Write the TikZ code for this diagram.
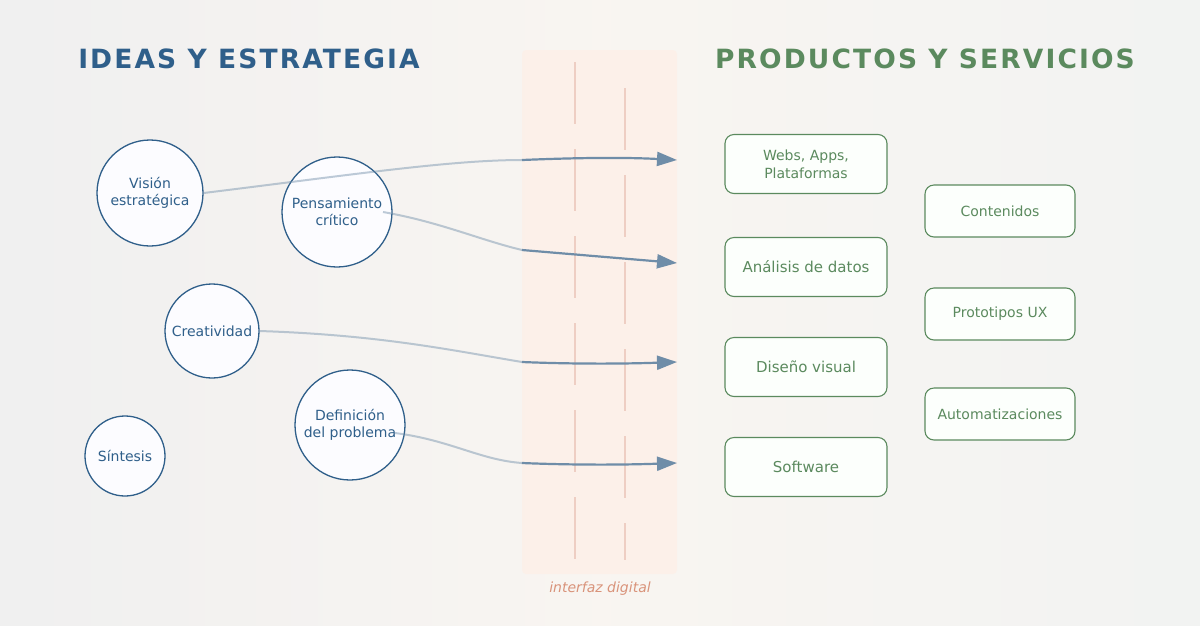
\documentclass[tikz,border=0pt]{standalone}
\usepackage{fontspec}
\setmainfont{DejaVu Sans}
\usetikzlibrary{arrows.meta}
\definecolor{blu}{HTML}{2F5F8A}
\definecolor{grn}{HTML}{5B8A5E}
\definecolor{sal}{HTML}{D9937A}
\definecolor{arr}{HTML}{6F8DA8}
\begin{document}
\begin{tikzpicture}[x=1pt,y=-1pt,
  idea/.style={circle,draw=blu,line width=1.3pt,fill=white!60!blue!3,text=blu,align=center,font=\fontsize{14}{17}\selectfont,inner sep=0pt},
  prod/.style={rounded corners=9pt,draw=grn,line width=1.1pt,fill=white!80!green!5,text=grn,align=center,font=\fontsize{14}{18}\selectfont,minimum width=162pt,minimum height=59pt},
  prod2/.style={prod,minimum width=150pt,minimum height=52pt},
  outl/.style={arr,opacity=0.45,line width=2pt},
  inl/.style={arr,line width=2.2pt,-{Triangle[length=20pt,width=14pt]}},
  dsh/.style={sal!45,line width=1.3pt,dash pattern=on 62pt off 25pt}]
\useasboundingbox (0,0) rectangle (1200,625);
\shade[left color=gray!12,right color=green!4!gray!10,middle color=orange!3!white!95!gray] (0,0) rectangle (1200,625);
\fill[red!30!orange!10,opacity=0.6,rounded corners=4pt] (522,50) rectangle (677,574);
\draw[dsh] (575,62) -- (575,560);
\draw[dsh,dash phase=-13pt] (625,75) -- (625,560);
\node[text=sal,font=\fontsize{14}{16}\selectfont\itshape] (lbl) at (600,589) {interfaz digital};
\node[text=blu,font=\fontsize{26.5}{30}\selectfont\bfseries\addfontfeature{LetterSpace=8}] (t1) at (249,59) {IDEAS Y ESTRATEGIA};
\node[text=grn,font=\fontsize{26.5}{30}\selectfont\bfseries\addfontfeature{LetterSpace=8}] (t2) at (925,59) {PRODUCTOS Y SERVICIOS};
\node[idea,minimum size=106pt] (vis) at (150,193) {Visión\\estratégica};
\node[idea,minimum size=110pt] (pen) at (337,212) {Pensamiento\\crítico};
\node[idea,minimum size=94pt] (cre) at (212,331) {Creatividad};
\node[idea,minimum size=110pt] (def) at (350,425) {Definición\\del problema};
\node[idea,minimum size=80pt] (sin) at (125,456) {Síntesis};
\node[prod] (web) at (806,164) {Webs, Apps,\\Plataformas};
\node[prod,font=\fontsize{15}{18}\selectfont] (ana) at (806,267) {Análisis de datos};
\node[prod,font=\fontsize{15}{18}\selectfont] (dis) at (806,367) {Diseño visual};
\node[prod,font=\fontsize{15}{18}\selectfont] (sof) at (806,467) {Software};
\node[prod2] (con) at (1000,211) {Contenidos};
\node[prod2] (pro) at (1000,314) {Prototipos UX};
\node[prod2] (aut) at (1000,414) {Automatizaciones};
\coordinate (a1) at (522,160); \coordinate (e1) at (677,160);
\coordinate (a2) at (522,250); \coordinate (e2) at (677,263);
\coordinate (a3) at (522,362); \coordinate (e3) at (677,362);
\coordinate (a4) at (522,463); \coordinate (e4) at (677,463);
\draw[outl] (vis.east) .. controls (350,175) and (450,160) .. (a1);
\draw[outl] (383,212) .. controls (440,222) and (480,240) .. (a2);
\draw[outl] (cre.east) .. controls (380,335) and (450,350) .. (a3);
\draw[outl] (395,433) .. controls (450,440) and (480,460) .. (a4);
\draw[inl] (a1) .. controls (570,158) and (620,157) .. (e1);
\draw[inl] (a2) -- (e2);
\draw[inl] (a3) .. controls (570,364) and (620,364) .. (e3);
\draw[inl] (a4) .. controls (570,465) and (620,465) .. (e4);
\end{tikzpicture}
\end{document}
